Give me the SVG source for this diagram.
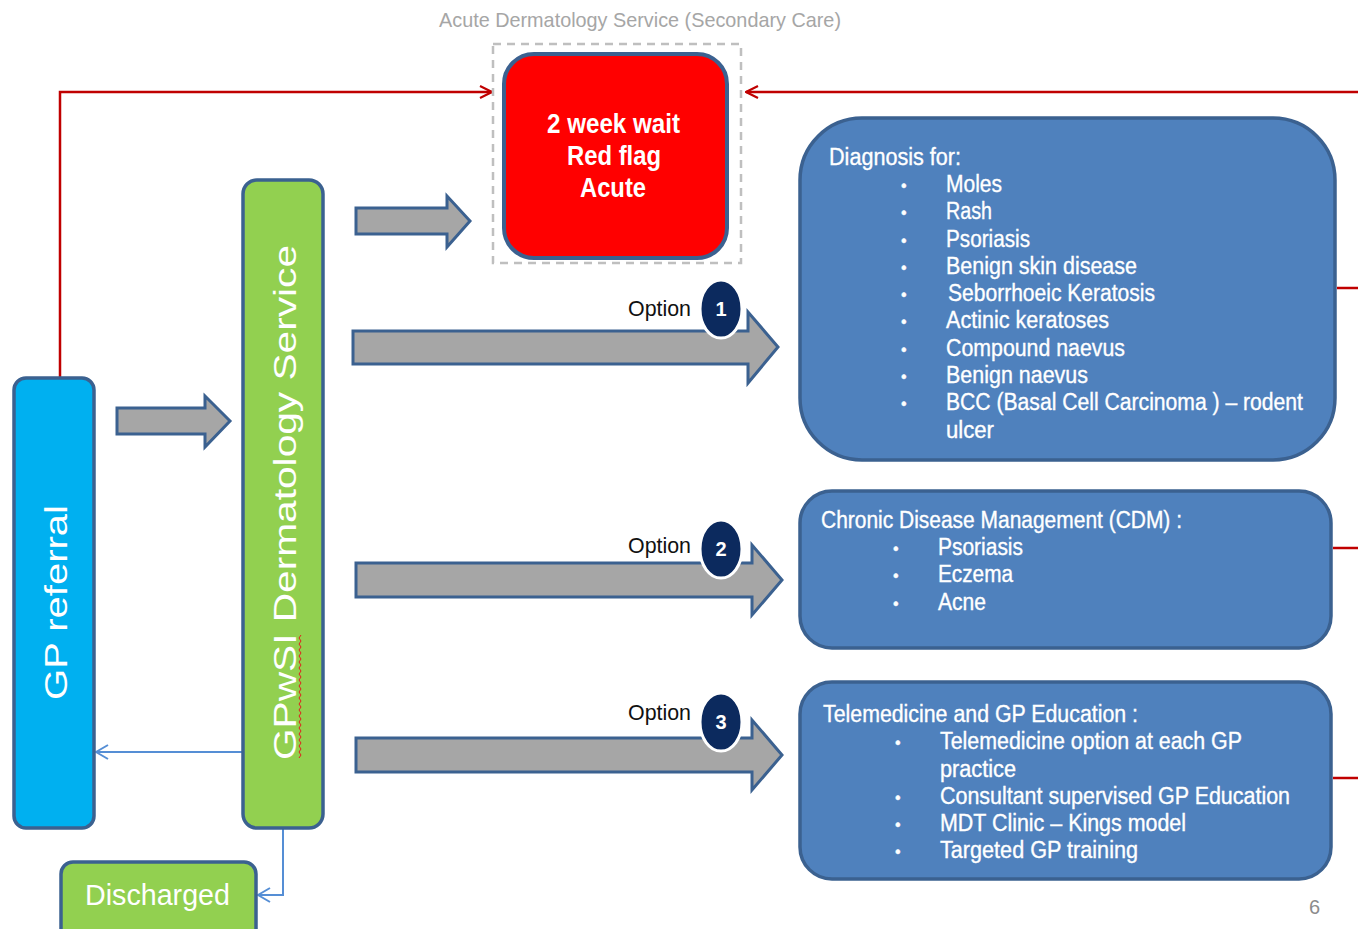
<svg xmlns="http://www.w3.org/2000/svg" width="1358" height="929" viewBox="0 0 1358 929">
  <defs>
    <marker id="redHead" viewBox="0 0 14 14" refX="13" refY="7" markerWidth="14" markerHeight="14" markerUnits="userSpaceOnUse" orient="auto">
      <path d="M1,1 L13,7 L1,13" fill="none" stroke="#C00000" stroke-width="2.2"/>
    </marker>
    <marker id="blueHead" viewBox="0 0 14 16" refX="13" refY="8" markerWidth="14" markerHeight="16" markerUnits="userSpaceOnUse" orient="auto">
      <path d="M1,1 L13,8 L1,15" fill="none" stroke="#558ED5" stroke-width="2"/>
    </marker>
  </defs>
  <style>
    .node { stroke: #3B6190; stroke-width: 3.5; }
    .blue { fill: #4F81BD; }
    .block { fill: #A6A6A6; stroke: #3B6190; stroke-width: 3; stroke-linejoin: miter; }
    .red { fill: none; stroke: #C00000; stroke-width: 2.5; }
    .thin { fill: none; stroke: #558ED5; stroke-width: 2; }
    .txt { font-family: "Liberation Sans Narrow", "Liberation Sans", Arial, sans-serif; fill: #FFFFFF; }
    .list { font-size: 23px; stroke: #FFFFFF; stroke-width: 0.35; }
    .opt { font-family: "Liberation Sans", Arial, sans-serif; font-size: 21.5px; fill: #111111; }
    .badge { fill: #0C2A5E; stroke: #FFFFFF; stroke-width: 3; }
    .num { font-family: "Liberation Sans", Arial, sans-serif; font-size: 20px; font-weight: bold; fill: #FFFFFF; text-anchor: middle; }
  </style>

  <rect width="1358" height="929" fill="#FFFFFF"/>

  <!-- page heading over the secondary care block -->
  <text x="439" y="27" class="txt" style="fill:#A6A6A6" font-size="21" textLength="402" lengthAdjust="spacingAndGlyphs">Acute Dermatology  Service  (Secondary  Care)</text>

  <!-- connectors -->
  <g id="connectors">
    <path class="red" d="M60,378 L60,92 L492,92" marker-end="url(#redHead)"/>
    <path class="red" d="M1358,92 L746,92" marker-end="url(#redHead)"/>
    <path class="red" d="M1337,288 L1358,288"/>
    <path class="red" d="M1333,548 L1358,548"/>
    <path class="red" d="M1333,778 L1358,778"/>
    <path class="thin" d="M243,752 L96,752" marker-end="url(#blueHead)"/>
    <path class="thin" d="M283,828 L283,895 L258,895" marker-end="url(#blueHead)"/>

    <!-- block arrows -->
    <path class="block" d="M117,408 L205,408 L205,396 L230,421 L205,447 L205,434 L117,434 Z"/>
    <path class="block" d="M356,208 L447,208 L447,196 L470,221 L447,247 L447,234 L356,234 Z"/>
    <path class="block" d="M353,331 L748,331 L748,312 L778,347 L748,383 L748,364 L353,364 Z"/>
    <path class="block" d="M356,563 L752,563 L752,545 L782,580 L752,615 L752,597 L356,597 Z"/>
    <path class="block" d="M356,738 L752,738 L752,720 L782,755 L752,790 L752,772 L356,772 Z"/>
  </g>

  <!-- option labels -->
  <g id="option1">
    <text x="628" y="316" class="opt" textLength="63" lengthAdjust="spacingAndGlyphs">Option</text>
    <ellipse cx="721" cy="309" rx="21" ry="29" class="badge"/>
    <text x="721" y="316" class="num">1</text>
  </g>
  <g id="option2">
    <text x="628" y="553" class="opt" textLength="63" lengthAdjust="spacingAndGlyphs">Option</text>
    <ellipse cx="721" cy="549" rx="21" ry="29" class="badge"/>
    <text x="721" y="556" class="num">2</text>
  </g>
  <g id="option3">
    <text x="628" y="720" class="opt" textLength="63" lengthAdjust="spacingAndGlyphs">Option</text>
    <ellipse cx="721" cy="722" rx="21" ry="29" class="badge"/>
    <text x="721" y="729" class="num">3</text>
  </g>

  <!-- GP referral -->
  <g id="gp-referral">
    <rect x="14" y="378" width="80" height="450" rx="12" class="node" fill="#00B0F0"/>
    <text transform="translate(67,700) rotate(-90)" class="txt" font-size="31" textLength="195" lengthAdjust="spacingAndGlyphs">GP referral</text>
  </g>

  <!-- GPwSI service -->
  <g id="gpwsi-service">
    <rect x="243" y="180" width="80" height="648" rx="14" class="node" fill="#92D050"/>
    <text transform="translate(296,760) rotate(-90)" class="txt" font-size="31" textLength="515" lengthAdjust="spacingAndGlyphs">GPwSI Dermatology Service</text>
    <path d="M299,758 l2,-3 l-2,-3 l2,-3 l-2,-3 l2,-3 l-2,-3 l2,-3 l-2,-3 l2,-3 l-2,-3 l2,-3 l-2,-3 l2,-3 l-2,-3 l2,-3 l-2,-3 l2,-3 l-2,-3 l2,-3 l-2,-3 l2,-3 l-2,-3 l2,-3 l-2,-3 l2,-3 l-2,-3 l2,-3 l-2,-3 l2,-3 l-2,-3 l2,-3 l-2,-3 l2,-3 l-2,-3 l2,-3 l-2,-3 l2,-3 l-2,-3 l2,-3 l-2,-3 l2,-3" fill="none" stroke="#E0201B" stroke-width="1"/>
  </g>

  <!-- Discharged -->
  <g id="discharged">
    <rect x="61" y="862" width="195" height="80" rx="12" class="node" fill="#92D050"/>
    <text x="85" y="905" class="txt" font-size="30" textLength="145" lengthAdjust="spacingAndGlyphs">Discharged</text>
  </g>

  <!-- 2 week wait -->
  <g id="two-week-wait">
    <rect x="493" y="44" width="248" height="219" fill="none" stroke="#BFBFBF" stroke-width="2.5" stroke-dasharray="8,6"/>
    <rect x="504" y="54" width="223" height="204" rx="30" fill="#FF0000" stroke="#3B6190" stroke-width="4"/>
    <g class="txt" font-size="27" font-weight="bold">
      <text x="547" y="133" textLength="133" lengthAdjust="spacingAndGlyphs">2 week wait</text>
      <text x="567" y="165" textLength="94" lengthAdjust="spacingAndGlyphs">Red flag</text>
      <text x="580" y="197" textLength="66" lengthAdjust="spacingAndGlyphs">Acute</text>
    </g>
  </g>

  <!-- Option 1: diagnosis -->
  <g id="diagnosis">
    <rect x="800" y="118" width="535" height="342" rx="62" class="node blue"/>
    <g class="txt list">
      <text x="829" y="165" textLength="132" lengthAdjust="spacingAndGlyphs">Diagnosis  for:</text>
      <g font-size="16">
        <text x="901" y="191">•</text><text x="901" y="218">•</text><text x="901" y="246">•</text>
        <text x="901" y="273">•</text><text x="901" y="300">•</text><text x="901" y="327">•</text>
        <text x="901" y="355">•</text><text x="901" y="382">•</text><text x="901" y="409">•</text>
      </g>
      <text x="946" y="192" textLength="56" lengthAdjust="spacingAndGlyphs">Moles</text>
      <text x="946" y="219" textLength="46" lengthAdjust="spacingAndGlyphs">Rash</text>
      <text x="946" y="247" textLength="84" lengthAdjust="spacingAndGlyphs">Psoriasis</text>
      <text x="946" y="274" textLength="191" lengthAdjust="spacingAndGlyphs">Benign skin  disease</text>
      <text x="948" y="301" textLength="207" lengthAdjust="spacingAndGlyphs">Seborrhoeic Keratosis</text>
      <text x="946" y="328" textLength="163" lengthAdjust="spacingAndGlyphs">Actinic  keratoses</text>
      <text x="946" y="356" textLength="179" lengthAdjust="spacingAndGlyphs">Compound  naevus</text>
      <text x="946" y="383" textLength="142" lengthAdjust="spacingAndGlyphs">Benign naevus</text>
      <text x="946" y="410" textLength="357" lengthAdjust="spacingAndGlyphs">BCC  (Basal Cell Carcinoma ) – rodent</text>
      <text x="946" y="438" textLength="48" lengthAdjust="spacingAndGlyphs">ulcer</text>
    </g>
  </g>

  <!-- Option 2: chronic disease management -->
  <g id="cdm">
    <rect x="800" y="491" width="531" height="157" rx="32" class="node blue"/>
    <g class="txt list">
      <text x="821" y="528" textLength="361" lengthAdjust="spacingAndGlyphs">Chronic  Disease  Management (CDM) :</text>
      <g font-size="16">
        <text x="893" y="554">•</text><text x="893" y="581">•</text><text x="893" y="609">•</text>
      </g>
      <text x="938" y="555" textLength="85" lengthAdjust="spacingAndGlyphs">Psoriasis</text>
      <text x="938" y="582" textLength="75" lengthAdjust="spacingAndGlyphs">Eczema</text>
      <text x="938" y="610" textLength="48" lengthAdjust="spacingAndGlyphs">Acne</text>
    </g>
  </g>

  <!-- Option 3: telemedicine and education -->
  <g id="telemedicine">
    <rect x="800" y="682" width="531" height="197" rx="32" class="node blue"/>
    <g class="txt list">
      <text x="823" y="722" textLength="315" lengthAdjust="spacingAndGlyphs">Telemedicine and GP Education :</text>
      <g font-size="16">
        <text x="895" y="748">•</text><text x="895" y="803">•</text>
        <text x="895" y="830">•</text><text x="895" y="857">•</text>
      </g>
      <text x="940" y="749" textLength="302" lengthAdjust="spacingAndGlyphs">Telemedicine option at each GP</text>
      <text x="940" y="777" textLength="76" lengthAdjust="spacingAndGlyphs">practice</text>
      <text x="940" y="804" textLength="350" lengthAdjust="spacingAndGlyphs">Consultant  supervised  GP Education</text>
      <text x="940" y="831" textLength="246" lengthAdjust="spacingAndGlyphs">MDT  Clinic – Kings  model</text>
      <text x="940" y="858" textLength="198" lengthAdjust="spacingAndGlyphs">Targeted GP training</text>
    </g>
  </g>

  <!-- slide number -->
  <text x="1309" y="914" font-family="Liberation Sans, Arial, sans-serif" font-size="20" fill="#8C8C8C">6</text>
</svg>
